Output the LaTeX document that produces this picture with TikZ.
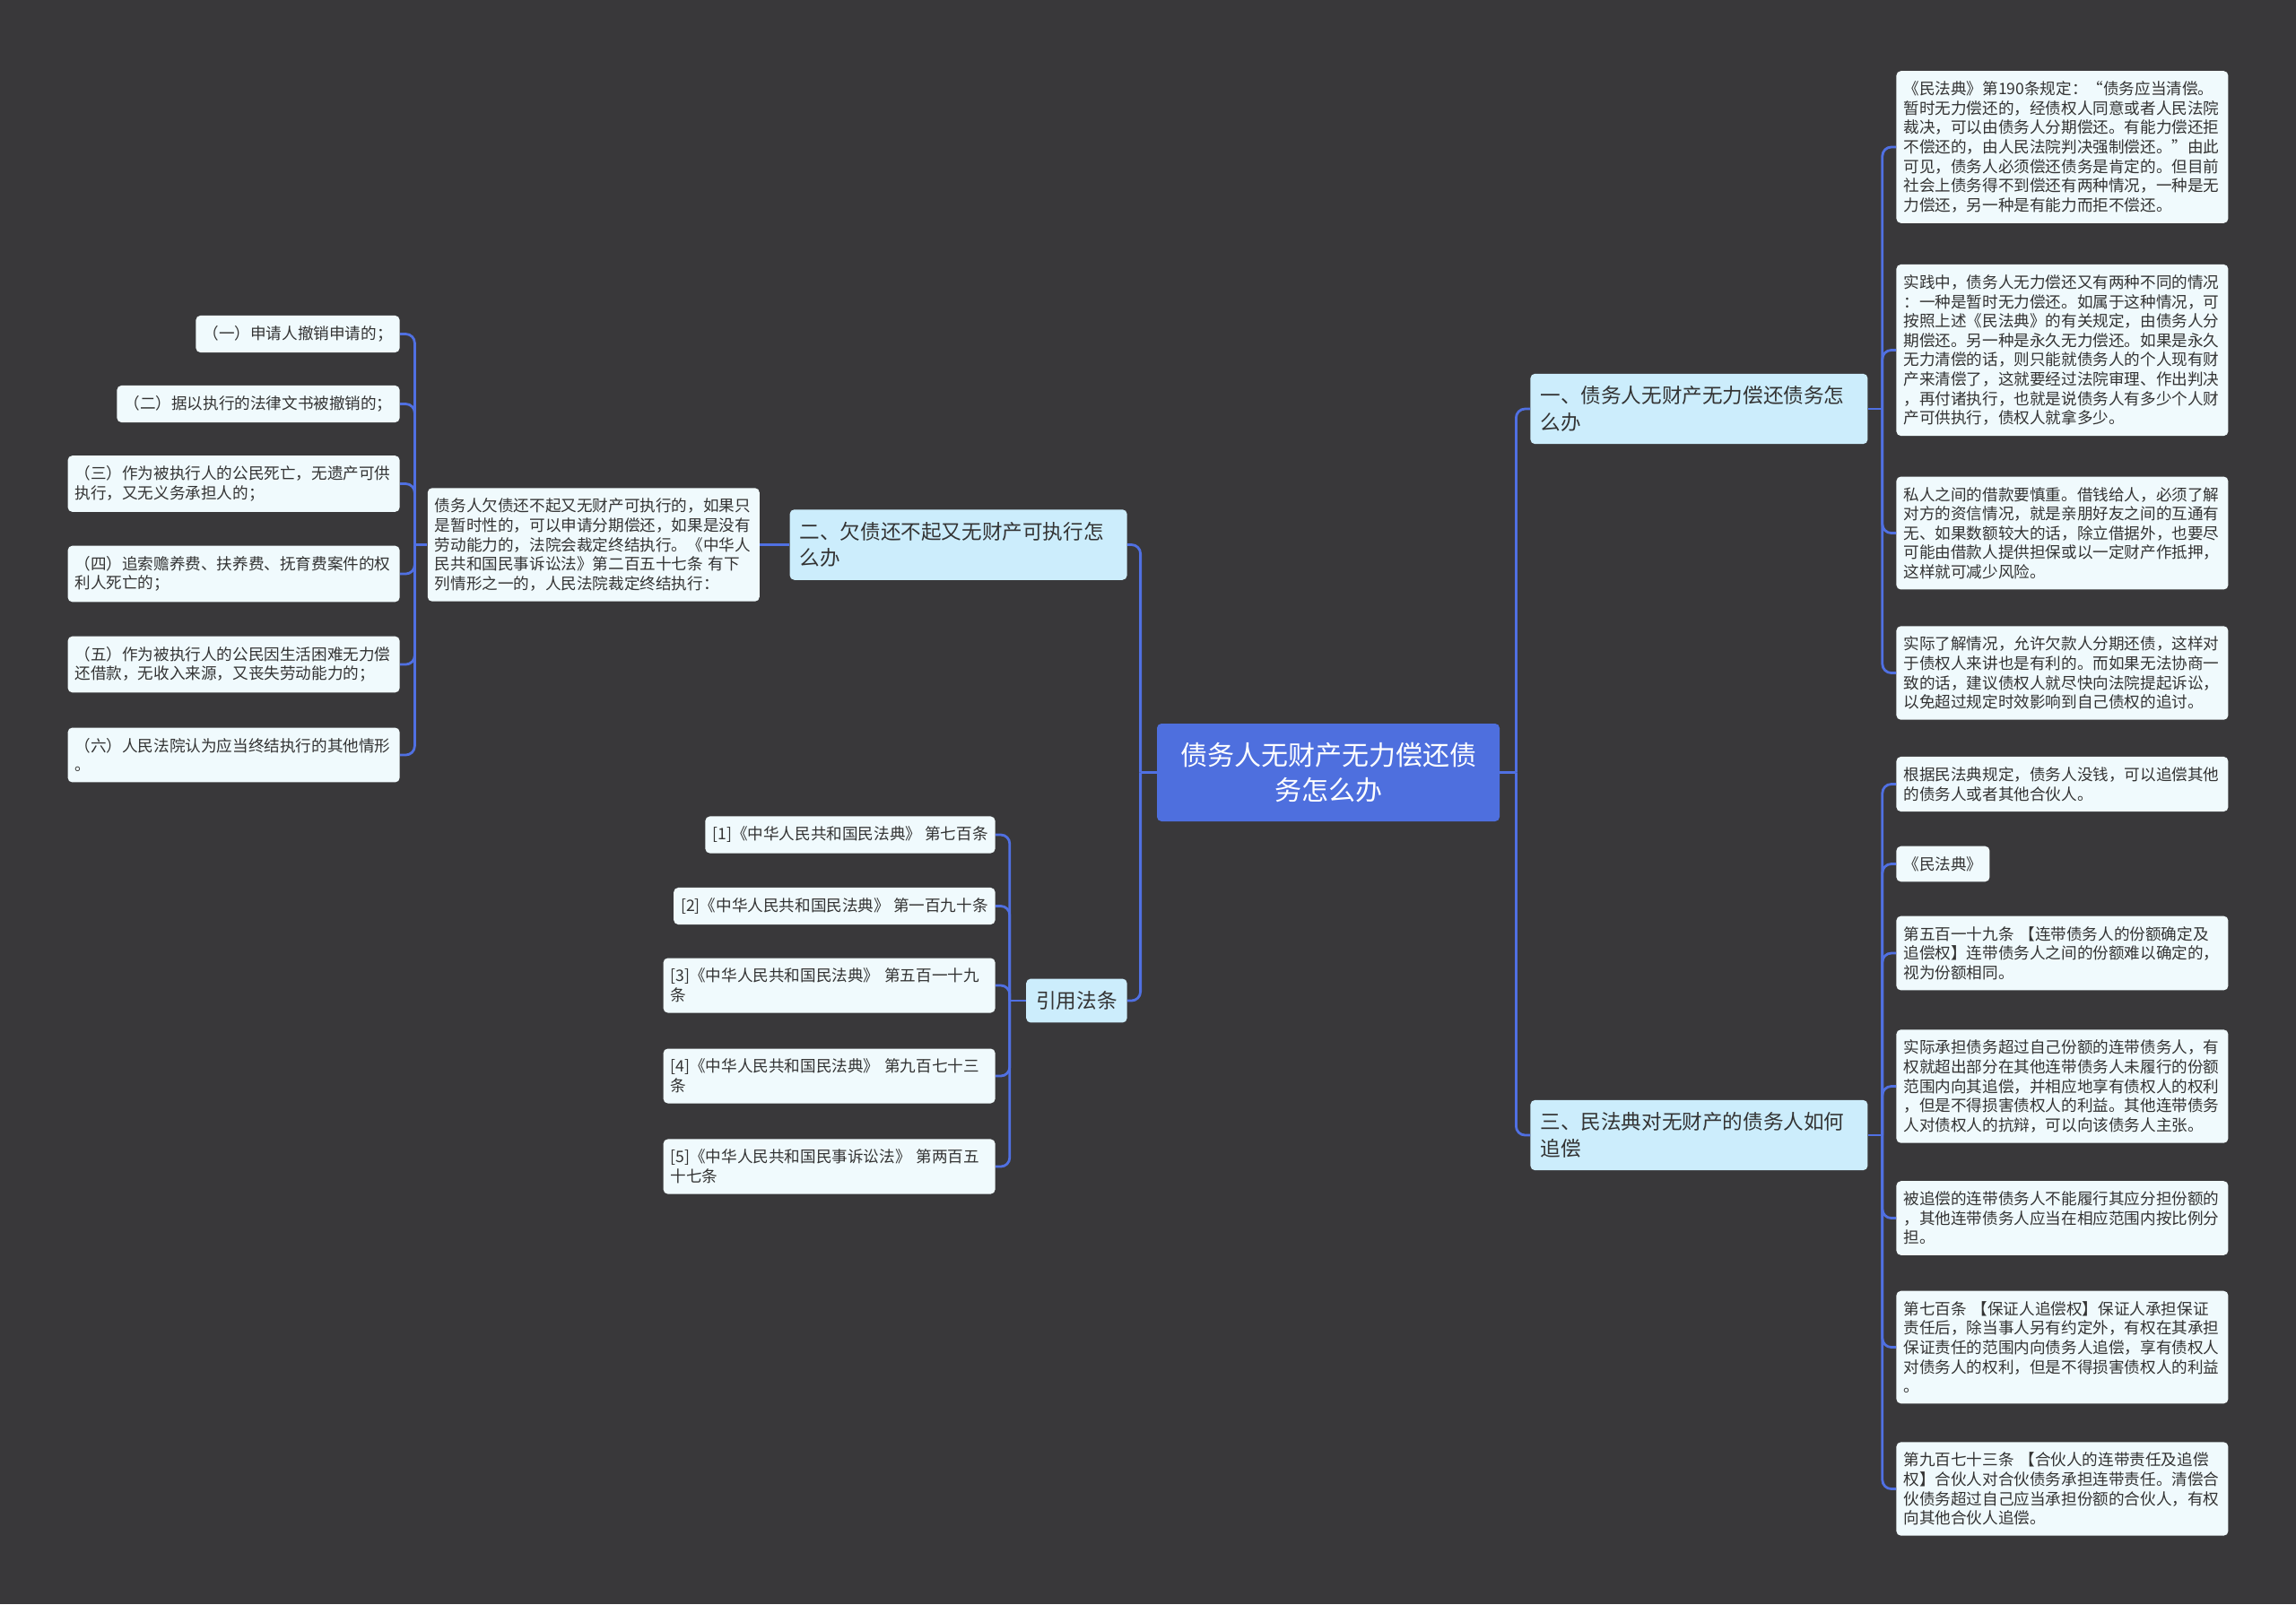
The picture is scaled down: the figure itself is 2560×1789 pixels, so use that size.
\documentclass[tikz,border=0pt]{standalone}
\usepackage{fontspec}
\setmainfont{Noto Sans CJK SC}
\usetikzlibrary{positioning,calc}
\definecolor{cbg}{RGB}{57,56,58}
\definecolor{croot}{RGB}{78,111,222}
\definecolor{clink}{RGB}{80,112,226}
\definecolor{ctopic}{RGB}{204,237,252}
\definecolor{cleaf}{RGB}{240,250,253}
\definecolor{ctext}{RGB}{51,51,51}

\begin{document}
\begin{tikzpicture}[
  x=0.5pt, y=-0.5pt,
  box/.style={rectangle, rounded corners=2.5pt, align=left, text=ctext},
  root/.style={box, fill=croot, text=white, align=center,
               font=\fontsize{15}{19.6}\selectfont, inner ysep=10pt,
               minimum width=191pt, minimum height=54.5pt},
  topic/.style={box, fill=ctopic, font=\fontsize{11.3}{14.7}\selectfont,
                inner xsep=5.5pt, inner ysep=7pt},
  leaf/.style={box, fill=cleaf, font=\fontsize{8.8}{10.8}\selectfont,
               inner xsep=4pt, inner ysep=5.8pt},
  wide/.style={text width=177pt},
  link/.style={draw=clink, line width=1.4pt, rounded corners=5pt}
]

% ---------- canvas ----------
\fill[cbg] (0,0) rectangle (2560,1789);
\useasboundingbox (0,0) rectangle (2560,1789);

% ---------- root ----------
\node[root] (root) at (1481,861.5) {债务人无财产无力偿还债\\务怎么办};

% ---------- main topics ----------
\node[topic, wide, anchor=west] (a) at (1706,456) {一、债务人无财产无力偿还债务怎\\么办};
\node[topic, wide, anchor=west] (b) at (1706,1266) {三、民法典对无财产的债务人如何\\追偿};
\node[topic, wide, anchor=east] (c) at (1257,607.5) {二、欠债还不起又无财产可执行怎\\么办};
\node[topic, anchor=east]       (d) at (1257,1116) {引用法条};

% ---------- topic one ----------
\node[leaf, wide, anchor=west] (a1) at (2114,164) {《民法典》第190条规定：“债务应当清偿。\\暂时无力偿还的，经债权人同意或者人民法院\\裁决，可以由债务人分期偿还。有能力偿还拒\\不偿还的，由人民法院判决强制偿还。”由此\\可见，债务人必须偿还债务是肯定的。但目前\\社会上债务得不到偿还有两种情况，一种是无\\力偿还，另一种是有能力而拒不偿还。};
\node[leaf, wide, anchor=west] (a2) at (2114,390.5) {实践中，债务人无力偿还又有两种不同的情况\\：一种是暂时无力偿还。如属于这种情况，可\\按照上述《民法典》的有关规定，由债务人分\\期偿还。另一种是永久无力偿还。如果是永久\\无力清偿的话，则只能就债务人的个人现有财\\产来清偿了，这就要经过法院审理、作出判决\\，再付诸执行，也就是说债务人有多少个人财\\产可供执行，债权人就拿多少。};
\node[leaf, wide, anchor=west] (a3) at (2114,594.5) {私人之间的借款要慎重。借钱给人，必须了解\\对方的资信情况，就是亲朋好友之间的互通有\\无、如果数额较大的话，除立借据外，也要尽\\可能由借款人提供担保或以一定财产作抵押，\\这样就可减少风险。};
\node[leaf, wide, anchor=west] (a4) at (2114,750.5) {实际了解情况，允许欠款人分期还债，这样对\\于债权人来讲也是有利的。而如果无法协商一\\致的话，建议债权人就尽快向法院提起诉讼，\\以免超过规定时效影响到自己债权的追讨。};

% ---------- topic three ----------
\node[leaf, wide, anchor=west] (b1) at (2114,874.5) {根据民法典规定，债务人没钱，可以追偿其他\\的债务人或者其他合伙人。};
\node[leaf, anchor=west]       (b2) at (2114,963.5) {《民法典》};
\node[leaf, wide, anchor=west] (b3) at (2114,1063) {第五百一十九条 【连带债务人的份额确定及\\追偿权】连带债务人之间的份额难以确定的，\\视为份额相同。};
\node[leaf, wide, anchor=west] (b4) at (2114,1211.5) {实际承担债务超过自己份额的连带债务人，有\\权就超出部分在其他连带债务人未履行的份额\\范围内向其追偿，并相应地享有债权人的权利\\，但是不得损害债权人的利益。其他连带债务\\人对债权人的抗辩，可以向该债务人主张。};
\node[leaf, wide, anchor=west] (b5) at (2114,1358.5) {被追偿的连带债务人不能履行其应分担份额的\\，其他连带债务人应当在相应范围内按比例分\\担。};
\node[leaf, wide, anchor=west] (b6) at (2114,1502.5) {第七百条 【保证人追偿权】保证人承担保证\\责任后，除当事人另有约定外，有权在其承担\\保证责任的范围内向债务人追偿，享有债权人\\对债务人的权利，但是不得损害债权人的利益\\。};
\node[leaf, wide, anchor=west] (b7) at (2114,1660.5) {第九百七十三条 【合伙人的连带责任及追偿\\权】合伙人对合伙债务承担连带责任。清偿合\\伙债务超过自己应当承担份额的合伙人，有权\\向其他合伙人追偿。};

% ---------- topic two ----------
\node[leaf, wide, left=16.5pt of c] (c1) {债务人欠债还不起又无财产可执行的，如果只\\是暂时性的，可以申请分期偿还，如果是没有\\劳动能力的，法院会裁定终结执行。《中华人\\民共和国民事诉讼法》第二百五十七条 有下\\列情形之一的，人民法院裁定终结执行：};

\node[leaf, anchor=east]       (l1) at (446,372.5) {（一）申请人撤销申请的；};
\node[leaf, anchor=east]       (l2) at (446,450.5) {（二）据以执行的法律文书被撤销的；};
\node[leaf, wide, anchor=east] (l3) at (446,539.5) {（三）作为被执行人的公民死亡，无遗产可供\\执行，又无义务承担人的；};
\node[leaf, wide, anchor=east] (l4) at (446,640) {（四）追索赡养费、扶养费、抚育费案件的权\\利人死亡的；};
\node[leaf, wide, anchor=east] (l5) at (446,741) {（五）作为被执行人的公民因生活困难无力偿\\还借款，无收入来源，又丧失劳动能力的；};
\node[leaf, wide, anchor=east] (l6) at (446,842) {（六）人民法院认为应当终结执行的其他情形\\。};

% ---------- references ----------
\node[leaf, anchor=east]       (r1) at (1110,931) {[1]《中华人民共和国民法典》 第七百条};
\node[leaf, anchor=east]       (r2) at (1110,1010.5) {[2]《中华人民共和国民法典》 第一百九十条};
\node[leaf, wide, anchor=east] (r3) at (1110,1099) {[3]《中华人民共和国民法典》 第五百一十九\\条};
\node[leaf, wide, anchor=east] (r4) at (1110,1200) {[4]《中华人民共和国民法典》 第九百七十三\\条};
\node[leaf, wide, anchor=east] (r5) at (1110,1301) {[5]《中华人民共和国民事诉讼法》 第两百五\\十七条};

% ---------- branches ----------
\coordinate (rr) at ($(root.east)+(18,0)$);
\coordinate (rl) at ($(root.west)+(-18,0)$);
\coordinate (ak) at ($(a.east)+(16,0)$);
\coordinate (bk) at ($(b.east)+(16,0)$);
\coordinate (ck) at ($(c1.west)+(-14,0)$);
\coordinate (dk) at ($(d.west)+(-18,0)$);

\draw[link] (root.east) -- (rr);
\draw[link] (root.west) -- (rl);
\foreach \n in {a,b}
  \draw[link] (rr) |- (\n.west);
\foreach \n in {c,d}
  \draw[link] (rl) |- (\n.east);

\draw[link] (a.east) -- (ak);
\foreach \n in {a1,a2,a3,a4}
  \draw[link] (ak) |- (\n.west);

\draw[link] (b.east) -- (bk);
\foreach \n in {b1,b2,b3,b4,b5,b6,b7}
  \draw[link] (bk) |- (\n.west);

\draw[link] (c.west) -- (c1.east);
\draw[link] (c1.west) -- (ck);
\foreach \n in {l1,l2,l3,l4,l5,l6}
  \draw[link] (ck) |- (\n.east);

\draw[link] (d.west) -- (dk);
\foreach \n in {r1,r2,r3,r4,r5}
  \draw[link] (dk) |- (\n.east);

\end{tikzpicture}
\end{document}
